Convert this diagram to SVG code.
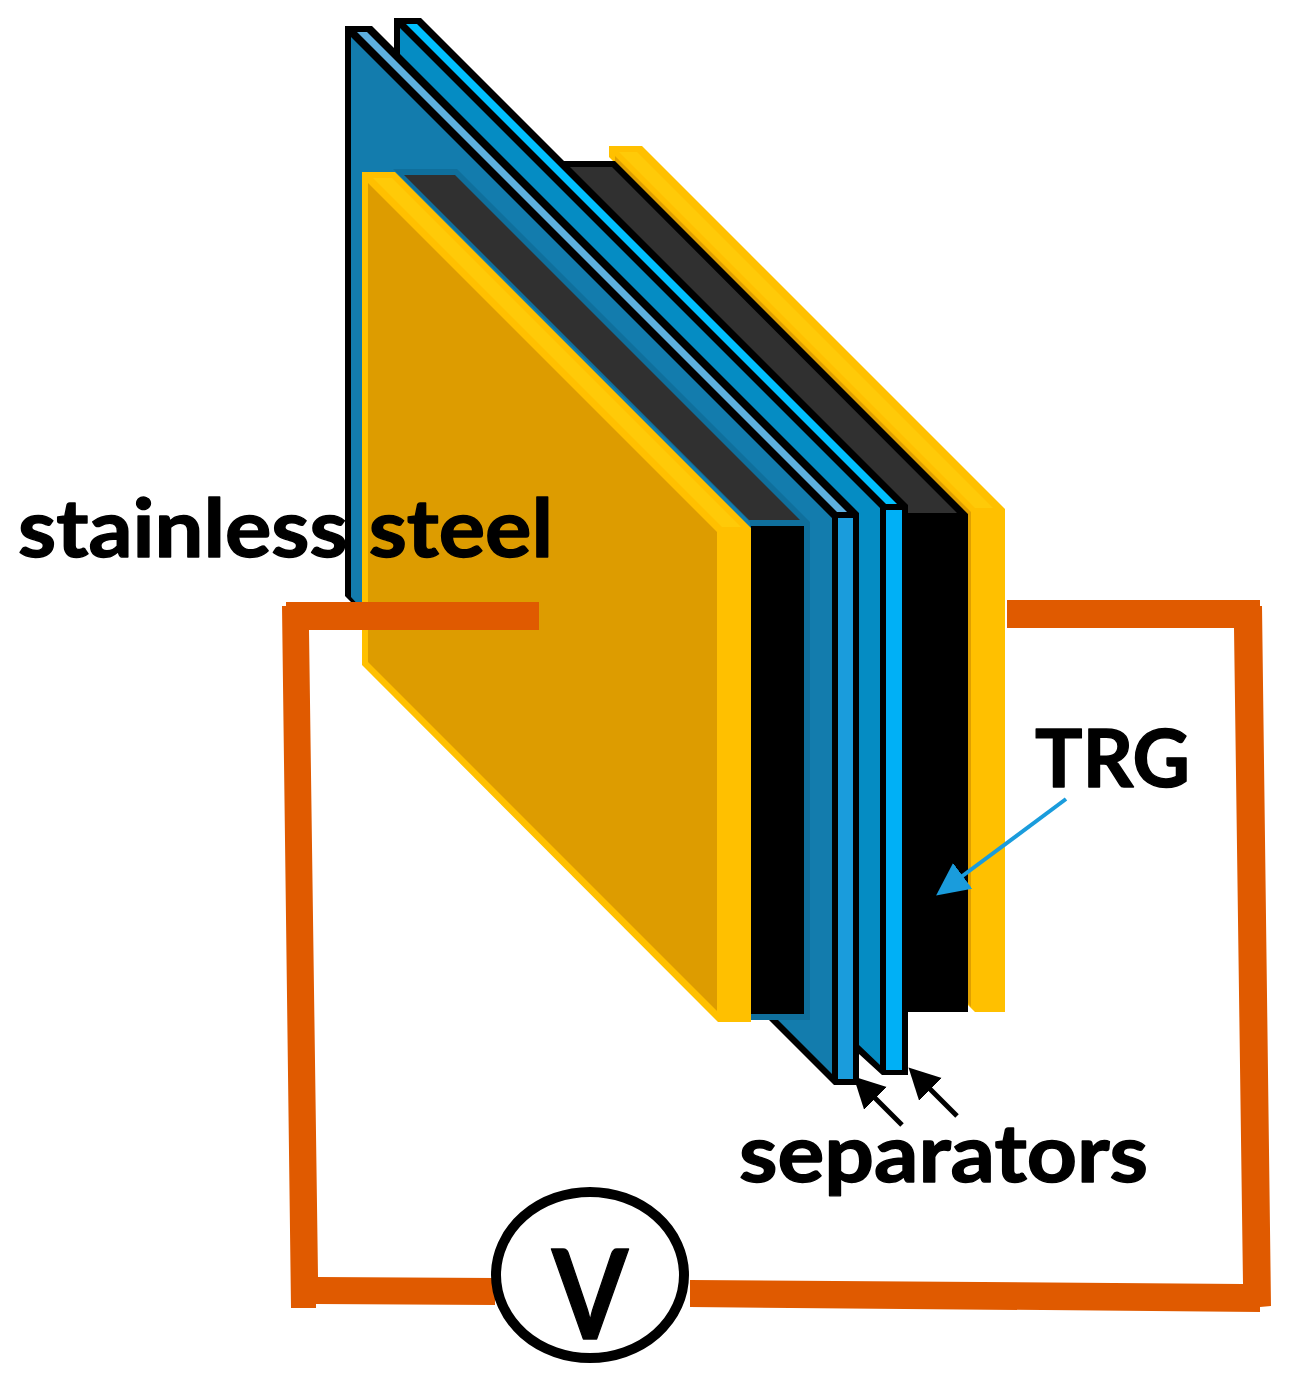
<svg xmlns="http://www.w3.org/2000/svg" width="1305" height="1391" viewBox="0 0 1305 1391">
<style>
.lbl{font-family:"Lato","Liberation Sans",sans-serif;font-weight:700;fill:#000;stroke:#000;stroke-width:1.4;stroke-linejoin:round}
.wire{fill:#e05a00}
.k{fill:#000}
.gray{fill:#303030}
.yel{fill:#ffc000}
.yel2{fill:#ffca08}
</style>
<defs>
<marker id="ah" markerUnits="userSpaceOnUse" markerWidth="36" markerHeight="36" refX="2" refY="16" orient="auto"><path d="M0 0L31 16L0 32Z" fill="#000"/></marker>
<marker id="ab" markerUnits="userSpaceOnUse" markerWidth="36" markerHeight="36" refX="2" refY="16" orient="auto"><path d="M0 0L33 16L0 32Z" fill="#1a9cdc"/></marker>
</defs>
<rect width="1305" height="1391" fill="#fff"/>
<g id="right-collector">
<path class="yel" d="M609 146H642L1005 509V1012H975L968 1005V516L609 157Z"/>
<path class="yel2" d="M619 152H637L993 508H975Z"/>
<path d="M615 156L971 512V1007L968 1003V516L615 161Z" fill="#e0a000"/>
</g>
<g id="right-trg">
<path class="k" d="M563 161H615L968 514V1012H905V513Z"/>
<path class="gray" d="M569 167H612L957 513H908V506Z"/>
</g>
<g id="separator-2">
<path class="k" d="M394 18H421L908 505V1075H882L859 1054V520L394 55Z"/>
<path d="M400 28L880 508V1065L859 1045V514L400 55Z" fill="#058cc3"/>
<path d="M406 24H417L897 504H886Z" fill="#00c0ff"/>
<rect x="886" y="510" width="16" height="560" fill="#00b0f6"/>
</g>
<g id="separator-1">
<path class="k" d="M345 26H372L859 513V1085H834L769 1020H760L360 602H351L345 596Z"/>
<path d="M351 37L832 518V1074L778 1020H740L351 597Z" fill="#137cad"/>
<path d="M357 32H367L847 512H837Z" fill="#5eb0e0"/>
<rect x="838" y="518" width="15" height="561" fill="#1a9cdc"/>
</g>
<g id="left-trg">
<path d="M393 169H457L810 522V1020H750V522Z" fill="#0f6f9c"/>
<path class="gray" d="M404 175H455L800 520H749Z"/>
<rect class="k" x="751" y="526" width="53" height="488"/>
</g>
<g id="left-collector">
<path class="yel" d="M362 172H395L751 528V1022H718L362 665Z"/>
<path class="yel2" d="M373 178H392L741 527H722Z"/>
<path d="M368 183L717 532V1011L368 662Z" fill="#dd9c00"/>
</g>
<g id="circuit">
<path class="wire" d="M286 602H539V630H309L318 1277L495 1278V1305L316 1304V1308H291L282 606H286Z"/>
<path class="wire" d="M1007 600H1260V606H1262L1271 1306L1260 1307V1312L690 1307V1280L1243 1284L1234 628H1007Z"/>
</g>
<g id="voltmeter">
<ellipse cx="590" cy="1275" rx="94" ry="83" fill="#fff" stroke="#000" stroke-width="10"/>
<text class="lbl" x="552" y="1339" font-size="124" textLength="76" lengthAdjust="spacingAndGlyphs">V</text>
</g>
<g id="connectors" fill="none">
<path d="M902 1125L874 1097" stroke="#000" stroke-width="5" marker-end="url(#ah)"/>
<path d="M957 1116L929 1088" stroke="#000" stroke-width="5" marker-end="url(#ah)"/>
<path d="M1066 799L961 877" stroke="#1a9cdc" stroke-width="4" marker-end="url(#ab)"/>
</g>
<g id="labels">
<text class="lbl" x="18" y="557" font-size="80" textLength="535" lengthAdjust="spacingAndGlyphs">stainless steel</text>
<text class="lbl" x="1035" y="787" font-size="80" textLength="155" lengthAdjust="spacingAndGlyphs">TRG</text>
<text class="lbl" x="739" y="1182" font-size="80" textLength="409" lengthAdjust="spacingAndGlyphs">separators</text>
</g>
</svg>
